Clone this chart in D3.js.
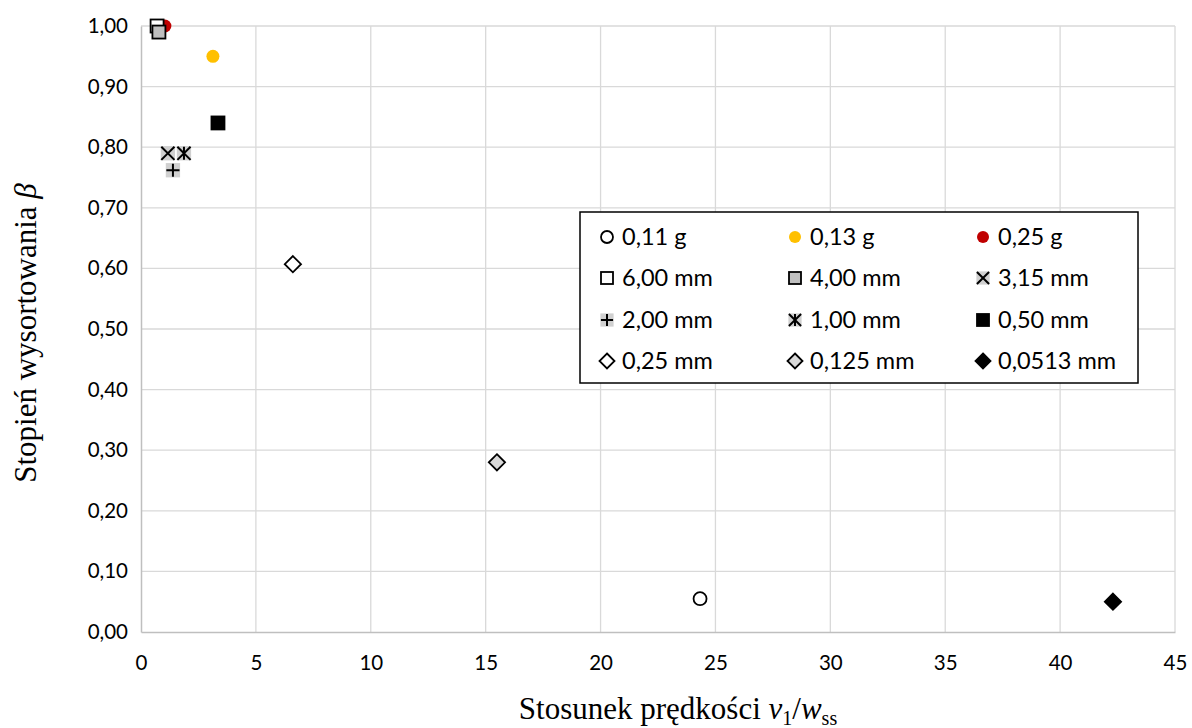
<!DOCTYPE html>
<html><head><meta charset="utf-8">
<script src="https://cdn.jsdelivr.net/npm/d3@7"></script>
<style>
body{margin:0;background:#fff;}
svg{display:block;}
</style></head>
<body>
<svg id="c" width="1192" height="728"></svg>
<script>
// Data
const seriesNames = ["0,11 g","0,13 g","0,25 g","6,00 mm","4,00 mm","3,15 mm","2,00 mm","1,00 mm","0,50 mm","0,25 mm","0,125 mm","0,0513 mm"];
const xValues = [24.33, 3.13, 1.04, 0.70, 0.78, 1.17, 1.39, 1.87, 3.35, 6.61, 15.49, 42.3];
const yValues = [0.055, 0.95, 1.00, 1.00, 0.99, 0.79, 0.762, 0.79, 0.84, 0.607, 0.28, 0.05];
const markerTypes = ["circle","circle","circle","square","square","x","plus","star","square","diamond","diamond","diamond"];
const markerFills = ["#ffffff","#FFC000","#C00000","#ffffff","#BFBFBF","#D0D0D0","#D0D0D0","#D0D0D0","#000000","#ffffff","#D9D9D9","#000000"];
const xTicks = [0,5,10,15,20,25,30,35,40,45];
const yTicks = [0,0.1,0.2,0.3,0.4,0.5,0.6,0.7,0.8,0.9,1.0];

const svg = d3.select("#c");
const m = {l:141, r:1175, t:26, b:632};
const x = d3.scaleLinear().domain([0,45]).range([m.l, m.r]);
const y = d3.scaleLinear().domain([0,1]).range([m.b, m.t]);
const fmt = v => d3.format(".2f")(v).replace(".", ",");

// grid
const g = svg.append("g");
g.selectAll("line.vx").data(xTicks.slice(1)).enter().append("line")
  .attr("x1", d=>x(d)).attr("x2", d=>x(d)).attr("y1", m.t).attr("y2", m.b)
  .attr("stroke","#d9d9d9").attr("stroke-width",1.3);
g.selectAll("line.hy").data(yTicks.slice(1)).enter().append("line")
  .attr("x1", m.l).attr("x2", m.r).attr("y1", d=>y(d)).attr("y2", d=>y(d))
  .attr("stroke","#d9d9d9").attr("stroke-width",1.3);

// axes
const xAxis = d3.axisBottom(x).tickValues(xTicks).tickSize(0).tickPadding(20).tickFormat(d=>d);
const yAxis = d3.axisLeft(y).tickValues(yTicks).tickSize(0).tickPadding(13).tickFormat(fmt);
const gx = svg.append("g").attr("transform",`translate(0,${m.b})`).call(xAxis);
const gy = svg.append("g").attr("transform",`translate(${m.l},0)`).call(yAxis);
[gx,gy].forEach(a=>{
  a.select(".domain").attr("stroke","#bfbfbf").attr("stroke-width",1.5);
  a.selectAll("text").attr("font-family","Lato, 'Open Sans', sans-serif").attr("font-size",20.5).attr("fill","#000");
});
gx.selectAll("text").attr("dy","0.9em");

// marker drawing
function drawMarker(sel, type, fill, s){
  const h = s/2;
  if(type==="circle"){
    sel.append("circle").attr("r",h).attr("fill",fill)
      .attr("stroke", fill==="#ffffff" ? "#000" : "none").attr("stroke-width",1.8);
  } else if(type==="square"){
    sel.append("rect").attr("x",-h).attr("y",-h).attr("width",s).attr("height",s)
      .attr("fill",fill).attr("stroke","#000").attr("stroke-width",1.8);
  } else if(type==="diamond"){
    const d = h*1.25;
    sel.append("path").attr("d",`M0,${-d}L${d},0L0,${d}L${-d},0Z`)
      .attr("fill",fill).attr("stroke","#000").attr("stroke-width",1.8).attr("stroke-linejoin","miter");
  } else {
    const hb = h*1.1;
    sel.append("rect").attr("x",-hb).attr("y",-hb).attr("width",2*hb).attr("height",2*hb).attr("fill",fill);
    const k = hb*0.92;
    let p = "";
    if(type==="x"||type==="star") p += `M${-k},${-k}L${k},${k}M${-k},${k}L${k},${-k}`;
    if(type==="plus") p += `M${-k},0L${k},0M0,${-k}L0,${k}`;
    if(type==="star") p += `M0,${-k}L0,${k}`;
    sel.append("path").attr("d",p).attr("stroke","#000").attr("stroke-width",2).attr("fill","none");
  }
}

// points
const idx = d3.range(seriesNames.length);
idx.forEach(i=>{
  const gp = svg.append("g").attr("transform",`translate(${x(xValues[i])},${y(yValues[i])})`);
  drawMarker(gp, markerTypes[i], markerFills[i], 13);
});

// legend
const lg = svg.append("g");
lg.append("rect").attr("x",580).attr("y",212).attr("width",558).attr("height",171)
  .attr("fill","#fff").attr("stroke","#000").attr("stroke-width",1.5);
const colX = [607,795,983];
const rowY = [237,278,320,361];
idx.forEach(i=>{
  const cx = colX[i%3], cy = rowY[Math.floor(i/3)];
  const gm = lg.append("g").attr("transform",`translate(${cx},${cy})`);
  drawMarker(gm, markerTypes[i], markerFills[i], 12);
  lg.append("text").attr("x",cx+15).attr("y",cy).attr("dy","0.36em")
    .attr("font-family","Lato, 'Open Sans', sans-serif").attr("font-size",23.5).text(seriesNames[i]);
});

// axis titles
const yt = svg.append("text").attr("transform","translate(36,333) rotate(-90)")
  .attr("text-anchor","middle").attr("font-family","'Liberation Serif', serif").attr("font-size",31);
yt.append("tspan").text("Stopień wysortowania ");
yt.append("tspan").attr("font-style","italic").text("β");

const xt = svg.append("text").attr("x",678).attr("y",719)
  .attr("text-anchor","middle").attr("font-family","'Liberation Serif', serif").attr("font-size",31);
xt.append("tspan").text("Stosunek prędkości ");
xt.append("tspan").attr("font-style","italic").text("v");
xt.append("tspan").attr("font-size",20).attr("dy",6).text("1");
xt.append("tspan").attr("dy",-6).text("/");
xt.append("tspan").attr("font-style","italic").text("w");
xt.append("tspan").attr("font-size",20).attr("dy",6).text("ss");
</script>
</body></html>
